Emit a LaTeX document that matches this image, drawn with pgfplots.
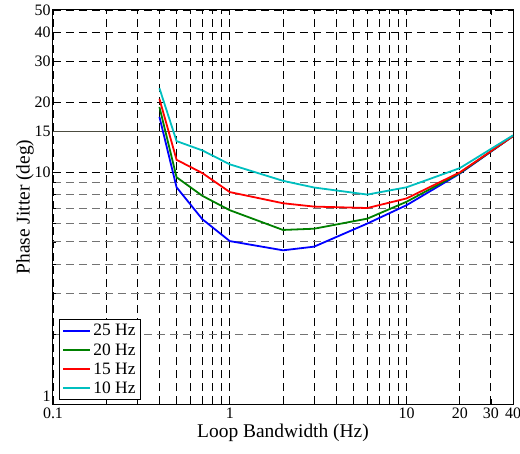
\documentclass[border=0pt]{standalone}
\usepackage{pgfplots}
\pgfplotsset{compat=1.18}
\usepackage{fontspec}
\setmainfont{Liberation Serif}
\definecolor{mgreen}{rgb}{0,0.5,0}
\definecolor{mcyan}{rgb}{0,0.75,0.75}
\definecolor{refline}{rgb}{0.3,0.3,0.25}
\begin{document}
\begin{tikzpicture}
\begin{loglogaxis}[
  scale only axis, width=460bp, height=394bp,
  xmin=0.1, xmax=40, ymin=1, ymax=50,
  xtick={0.1,1,10,20,30,40}, xticklabels={0.1,1,10,20,30,40},
  minor xtick={0.2,0.3,0.4,0.5,0.6,0.7,0.8,0.9,2,3,4,5,6,7,8,9},
  ytick={1,10,15,20,30,40,50}, yticklabels={\raisebox{3bp}[0pt][0pt]{1},10,15,20,30,40,50},
  minor ytick={2,3,4,5,6,7,8,9},
  grid=both,
  major grid style={black, dash pattern=on 8bp off 5bp, line width=0.9bp},
  minor x grid style={black, dash pattern=on 8bp off 5bp, line width=0.9bp},
  minor y grid style={black!55, dash pattern=on 8bp off 5bp, line width=0.9bp},
  tick align=inside, major tick length=5bp, minor tick length=3bp,
  tick style={black, line width=0.6bp},
  axis line style={black, line width=1bp},
  ticklabel style={font=\fontsize{16}{18}\selectfont},
  xticklabel style={yshift=-2bp, inner ysep=2bp},
  yticklabel style={xshift=1bp, inner ysep=0pt},
  label style={font=\fontsize{19.5}{22}\selectfont},
  xlabel={Loop Bandwidth (Hz)},
  ylabel={Phase Jitter (deg)},
  xlabel style={yshift=1bp},
  ylabel style={yshift=-6bp},
  legend style={at={(0.013,0.01)}, anchor=south west, draw=black, line width=1bp,
    fill=white, font=\fontsize{17.5}{19}\selectfont, inner sep=3bp, row sep=2bp},
  legend cell align=left,
  legend image code/.code={\draw[#1, line width=2bp] (0bp,0bp) -- (27bp,0bp);},
]
\addplot[refline, line width=1.2bp, forget plot] coordinates {(0.1,15) (40,15)};
\addplot[blue, line width=1.8bp] coordinates {(0.4,17.3) (0.5,8.6) (0.7,6.26) (1,5.04) (2,4.6) (3,4.77) (6,6.0) (10,7.2) (20,9.85) (40,14.3)};
\addlegendentry{25 Hz}
\addplot[mgreen, line width=1.8bp] coordinates {(0.4,19.1) (0.5,9.5) (0.7,7.9) (1,6.85) (2,5.63) (3,5.70) (6,6.3) (10,7.45) (20,9.9) (40,14.3)};
\addlegendentry{20 Hz}
\addplot[red, line width=1.8bp] coordinates {(0.4,20.7) (0.5,11.3) (0.7,9.9) (1,8.2) (2,7.34) (3,7.10) (6,7.0) (10,7.7) (20,9.97) (40,14.3)};
\addlegendentry{15 Hz}
\addplot[mcyan, line width=1.8bp] coordinates {(0.4,23.0) (0.5,13.6) (0.7,12.4) (1,10.8) (2,9.17) (3,8.58) (6,8.0) (10,8.6) (20,10.4) (40,14.4)};
\addlegendentry{10 Hz}
\end{loglogaxis}
\pgfresetboundingbox
\path[use as bounding box] (-53bp,-50bp) rectangle (467bp,404bp);
\end{tikzpicture}
\end{document}
